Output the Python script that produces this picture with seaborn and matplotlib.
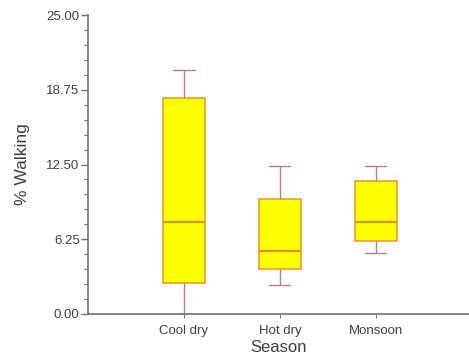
import matplotlib
matplotlib.use("Agg")
import matplotlib.pyplot as plt
from matplotlib.ticker import MultipleLocator, FixedLocator
import seaborn as sns
import pandas as pd

# Five-number summaries per season (min, Q1, median, Q3, max) of % walking
seasons = ["Cool dry", "Hot dry", "Monsoon"]
cool_dry = [0.0, 2.6, 7.7, 18.1, 20.4]
hot_dry = [2.45, 3.75, 5.3, 9.6, 12.4]
monsoon = [5.1, 6.1, 7.7, 11.1, 12.4]
y_ticks = [0.00, 6.25, 12.50, 18.75, 25.00]

df = pd.DataFrame({
    "Season": [s for s, vals in zip(seasons, [cool_dry, hot_dry, monsoon]) for _ in vals],
    "% Walking": cool_dry + hot_dry + monsoon,
})

sns.set_theme(style="white")
plt.rcParams["font.family"] = ["Liberation Sans", "DejaVu Sans"]

fig = plt.figure(figsize=(4.69, 3.58), dpi=100)
ax = fig.add_axes([88 / 469, 1 - 314 / 358, 1 - 88 / 469, (314 - 15) / 358])

sns.boxplot(
    data=df, x="Season", y="% Walking", order=seasons, ax=ax,
    whis=(0, 100), width=0.44, color="#FFFF00", saturation=1,
    linewidth=1.2,
    boxprops=dict(facecolor="#FFFF00", edgecolor="#E8A030"),
    medianprops=dict(color="#D8902A", linewidth=1.6),
    whiskerprops=dict(color="#B87C88", linewidth=1.0),
    capprops=dict(color="#B87C88", linewidth=1.0),
    showfliers=False,
)

ax.set_ylim(0, 25)
ax.set_xlim(-1.0, 2.97)
ax.yaxis.set_major_locator(FixedLocator(y_ticks))
ax.yaxis.set_minor_locator(MultipleLocator(1.25))
ax.set_yticklabels([f"{v:.2f}" for v in y_ticks])

for side in ("top", "right"):
    ax.spines[side].set_visible(False)
for side in ("left", "bottom"):
    ax.spines[side].set_color("#707078")
    ax.spines[side].set_linewidth(1.2)

ax.tick_params(axis="y", which="major", direction="out", length=5, width=1,
               color="#707078", labelsize=9.5, labelcolor="#404040", pad=1, left=True)
ax.tick_params(axis="y", which="minor", direction="out", length=3, width=0.8,
               color="#707078", left=True)
ax.tick_params(axis="x", which="major", direction="out", length=3, width=0.8,
               color="#707078", labelsize=9.5, labelcolor="#404040", pad=5, bottom=True)

ax.set_ylabel("% Walking", fontsize=12.5, color="#404040", labelpad=12)
ax.set_xlabel("Season", fontsize=12, color="#404040", labelpad=2)

fig.savefig("out.png", dpi=100)
